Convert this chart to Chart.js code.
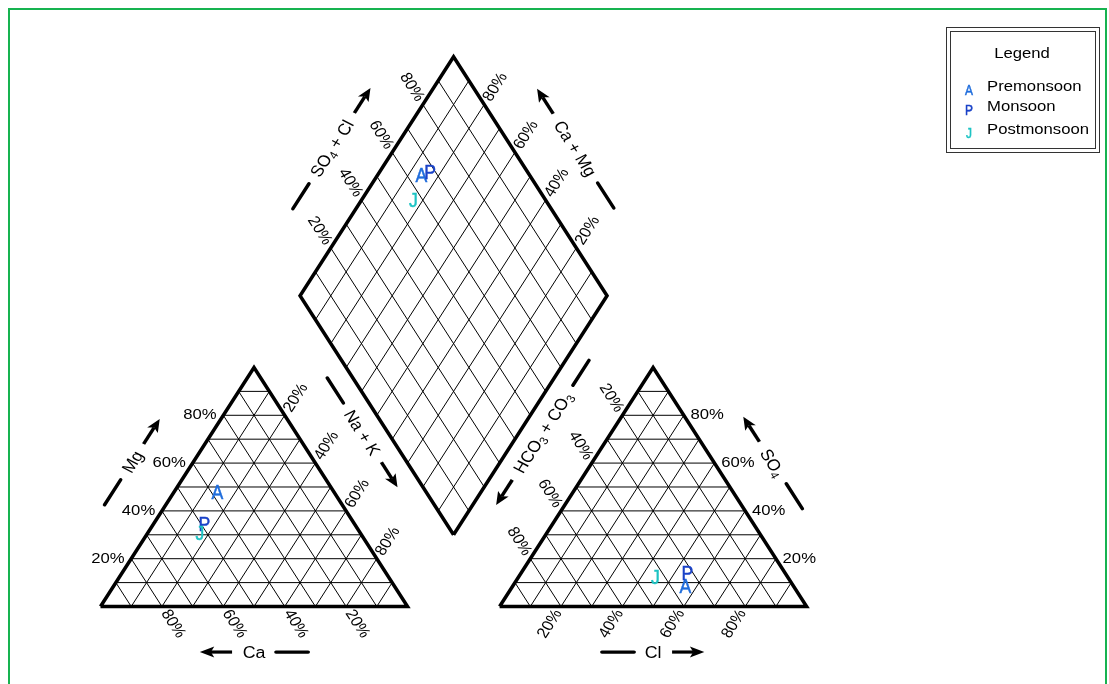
<!DOCTYPE html>
<html><head><meta charset="utf-8">
<script src="https://cdn.jsdelivr.net/npm/chart.js@4/dist/chart.umd.min.js"></script>
<style>html,body{margin:0;padding:0;background:#fff;overflow:hidden}canvas{display:block}</style>
</head><body>
<canvas id="c" width="1109" height="684"></canvas>
<script>
// ---------------- data (percent of meq/l) ----------------
const seasons = ['Premonsoon', 'Monsoon', 'Postmonsoon'];
const symbols = ['A', 'P', 'J'];
const colors  = ['#1f6ddc', '#1a42c8', '#1ec4c4'];
const ca   = [37.9, 48.8, 52.1];
const mg   = [48.0, 34.8, 31.0];
const naK  = [14.1, 16.4, 16.9];
const hco3 = [35.1, 31.7, 43.0];
const cl   = [56.2, 54.1, 44.5];
const so4  = [8.7, 14.2, 12.5];
const tickPercents = [20, 40, 60, 80];
const gridPercents = [10, 20, 30, 40, 50, 60, 70, 80, 90];

// ---------------- geometry ----------------
const S60 = Math.sqrt(3) / 2;
const H = 100 * S60;
const GAP = 30;
const AX = 100 + GAP;                      // anion triangle origin
const B = {x: 100 + GAP / 2, y: GAP * S60}; // diamond bottom
const L = {x: B.x - 50, y: B.y + H};
const R = {x: B.x + 50, y: B.y + H};
const T = {x: B.x, y: B.y + 2 * H};
const GAPPT = {x: NaN, y: NaN};

function cationXY(nk, m) { return {x: nk + m / 2, y: m * S60}; }
function anionXY(c, s) { return {x: AX + c + s / 2, y: s * S60}; }
function diamondXY(cp, ap) {
  const t = (ap.x - cp.x) + (ap.y - cp.y) / Math.sqrt(3);
  return {x: cp.x + 0.5 * t, y: cp.y + S60 * t};
}
function lerp(p, q, f) { return {x: p.x + (q.x - p.x) * f, y: p.y + (q.y - p.y) * f}; }

// grid lines
const gridData = [];
function seg(p, q) { gridData.push(p, q, GAPPT); }
[0, AX].forEach(ox => {
  const bl = {x: ox, y: 0}, br = {x: ox + 100, y: 0}, ap = {x: ox + 50, y: H};
  gridPercents.forEach(p => {
    const f = p / 100;
    seg(lerp(bl, ap, f), lerp(br, ap, f));          // horizontal
    seg(lerp(bl, br, f), lerp(br, ap, 1 - f));      // parallel to left edge
    seg(lerp(bl, br, f), lerp(bl, ap, f));          // parallel to right edge
  });
});
gridPercents.forEach(p => {
  const f = p / 100;
  seg(lerp(B, L, f), lerp(R, T, f));
  seg(lerp(B, R, f), lerp(L, T, f));
});
const outlineData = [
  {x: 0, y: 0}, {x: 100, y: 0}, {x: 50, y: H}, {x: 0, y: 0}, GAPPT,
  {x: AX, y: 0}, {x: AX + 100, y: 0}, {x: AX + 50, y: H}, {x: AX, y: 0}, GAPPT,
  B, R, T, L, B
];

const sampleSets = seasons.map((name, i) => {
  const cp = cationXY(naK[i], mg[i]);
  const ap = anionXY(cl[i], so4[i]);
  return {
    label: name, symbol: symbols[i],
    data: [cp, ap, diamondXY(cp, ap)],
    pointRadius: 0, showLine: false, order: 0,
    borderColor: colors[i], backgroundColor: colors[i]
  };
});

// axis titles: text parts, second element true = subscript
const axisTitles = [
  {parts: [['Mg']], x: 10.3, y: 52.4, angle: -60, arrow: 1},
  {parts: [['Ca']], x: 50, y: -16.5, angle: 0, arrow: -1},
  {parts: [['Na + K']], x: 85.3, y: 63.0, angle: 60, arrow: 1},
  {parts: [['Cl']], x: 180, y: -16.5, angle: 0, arrow: 1},
  {parts: [['SO'], ['4', true]], x: 219, y: 52.1, angle: 60, arrow: -1},
  {parts: [['HCO'], ['3', true], [' + CO'], ['3', true]], x: 144, y: 63.0, angle: -60, arrow: -1},
  {parts: [['SO'], ['4', true], [' + Cl']], x: 75.3, y: 166, angle: -60, arrow: 1},
  {parts: [['Ca + Mg']], x: 154.7, y: 166, angle: 60, arrow: -1}
];

const FAMILY = '"Liberation Sans", Arial, sans-serif';
const FONT = '15px ' + FAMILY;
const TITLE_FONT = '16px ' + FAMILY;
const SUB_FONT = '11px ' + FAMILY;

function drawLetter(ctx, ch, color, x, y, size, sxl) {
  ctx.save();
  ctx.fillStyle = color; ctx.strokeStyle = color; ctx.lineWidth = 0.5;
  ctx.font = size + 'px ' + FAMILY;
  ctx.textAlign = 'center'; ctx.textBaseline = 'alphabetic';
  ctx.translate(x, y + size * 0.716 / 2);
  ctx.scale(sxl, 1);
  ctx.fillText(ch, 0, 0);
  ctx.strokeText(ch, 0, 0);
  ctx.restore();
}

const piperPlugin = {
  id: 'piper',
  beforeDraw(chart) {
    const ctx = chart.ctx;
    ctx.save();
    ctx.fillStyle = '#fff';
    ctx.fillRect(0, 0, chart.width, chart.height);
    ctx.strokeStyle = '#17b350';
    ctx.lineWidth = 2;
    ctx.strokeRect(9, 9, 1097, 700);
    ctx.restore();
  },
  afterDatasetsDraw(chart) {
    const ctx = chart.ctx;
    const xs = chart.scales.x, ys = chart.scales.y;
    const px = v => xs.getPixelForValue(v), py = v => ys.getPixelForValue(v);
    const sx = (px(100) - px(0)) / (py(0) - py(100 * S60)) * S60;
    function text(p, str, ang, align, off) {
      ctx.save();
      ctx.translate(px(p.x), py(p.y));
      ctx.scale(sx, 1);
      ctx.rotate(ang * Math.PI / 180);
      ctx.font = FONT; ctx.fillStyle = '#000';
      ctx.textAlign = align; ctx.textBaseline = 'middle';
      ctx.fillText(str, off, 0);
      ctx.restore();
    }
    tickPercents.forEach(p => {
      const s = p + '%';
      text({x: p / 2, y: p * S60}, s, 0, 'right', -6);                       // Mg
      text({x: 100 - p, y: 0}, s, 60, 'left', 5);                            // Ca
      text({x: p + (100 - p) / 2, y: (100 - p) * S60}, s, -60, 'left', 5);   // Na+K
      text({x: AX + 100 - p / 2, y: p * S60}, s, 0, 'left', 6);              // SO4
      text({x: AX + p, y: 0}, s, -60, 'right', -5);                          // Cl
      text({x: AX + (100 - p) / 2, y: (100 - p) * S60}, s, 60, 'right', -5); // HCO3
      text(lerp(L, T, p / 100), s, 60, 'right', -5);                         // SO4+Cl
      text(lerp(R, T, p / 100), s, -60, 'left', 5);                          // Ca+Mg
    });
    axisTitles.forEach(t => {
      ctx.save();
      ctx.translate(px(t.x), py(t.y));
      ctx.scale(sx, 1);
      ctx.rotate(t.angle * Math.PI / 180);
      ctx.fillStyle = '#000';
      ctx.textAlign = 'left'; ctx.textBaseline = 'alphabetic';
      let total = 0;
      t.parts.forEach(pt => { ctx.font = pt[1] ? SUB_FONT : TITLE_FONT; total += ctx.measureText(pt[0]).width; });
      let cx = -total / 2;
      const base = 16 * 0.716 / 2;
      t.parts.forEach(pt => {
        ctx.font = pt[1] ? SUB_FONT : TITLE_FONT;
        ctx.fillText(pt[0], cx, base + (pt[1] ? 3 : 0));
        cx += ctx.measureText(pt[0]).width;
      });
      const half = total / 2;
      const near = half + 9.5, far = near + 29, head = 12;
      ctx.strokeStyle = '#000'; ctx.lineWidth = 3.2; ctx.lineCap = 'round';
      const d = -t.arrow;
      ctx.beginPath(); ctx.moveTo(d * near, 0); ctx.lineTo(d * far, 0); ctx.stroke();
      const a = t.arrow;
      ctx.lineCap = 'butt';
      ctx.beginPath(); ctx.moveTo(a * near, 0); ctx.lineTo(a * (far - head + 2), 0); ctx.stroke();
      ctx.beginPath();
      ctx.moveTo(a * far, 0);
      ctx.lineTo(a * (far - head - 1), -5.5);
      ctx.lineTo(a * (far - head + 2), 0);
      ctx.lineTo(a * (far - head - 1), 5.5);
      ctx.closePath(); ctx.fillStyle = '#000'; ctx.fill();
      ctx.restore();
    });
    // sample markers (letters at the points placed by the library)
    chart.data.datasets.forEach((ds, i) => {
      if (!ds.symbol) return;
      chart.getDatasetMeta(i).data.forEach(el => {
        drawLetter(ctx, ds.symbol, ds.borderColor, el.x, el.y, 21, 0.84);
      });
    });
    // legend box
    ctx.save();
    ctx.strokeStyle = '#333'; ctx.lineWidth = 1;
    ctx.strokeRect(946.5, 27.5, 153, 125);
    ctx.strokeRect(950.5, 31.5, 145, 117);
    ctx.fillStyle = '#000';
    ctx.textBaseline = 'middle';
    ctx.save(); ctx.translate(1022, 54); ctx.scale(sx, 1);
    ctx.font = FONT; ctx.textAlign = 'center'; ctx.fillText('Legend', 0, 0); ctx.restore();
    const rows = [87, 107, 130];
    chart.data.datasets.forEach((ds, i) => {
      if (!ds.symbol) return;
      drawLetter(ctx, ds.symbol, ds.borderColor, 969, rows[i] + 2.5, 14, 0.85);
      ctx.save(); ctx.translate(987, rows[i]); ctx.scale(sx, 1);
      ctx.font = FONT; ctx.textAlign = 'left'; ctx.fillStyle = '#000';
      ctx.fillText(ds.label, 0, 0); ctx.restore();
    });
    ctx.restore();
  }
};

new Chart(document.getElementById('c'), {
  type: 'scatter',
  data: {
    datasets: [
      ...sampleSets,
      {label: 'outline', data: outlineData, showLine: true, pointRadius: 0, borderColor: '#000',
       borderWidth: 3.5, borderJoinStyle: 'miter', spanGaps: false, order: 1, tension: 0},
      {label: 'grid', data: gridData, showLine: true, pointRadius: 0, borderColor: '#000',
       borderWidth: 1, spanGaps: false, order: 2, tension: 0}
    ]
  },
  options: {
    responsive: false, animation: false, events: [],
    layout: {padding: 0, autoPadding: false},
    plugins: {legend: {display: false}, tooltip: {enabled: false}},
    scales: {
      x: {type: 'linear', min: -32.74, max: 328.5, display: false},
      y: {type: 'linear', min: -28.08, max: 219.75, display: false}
    }
  },
  plugins: [piperPlugin]
});
</script>
</body></html>
